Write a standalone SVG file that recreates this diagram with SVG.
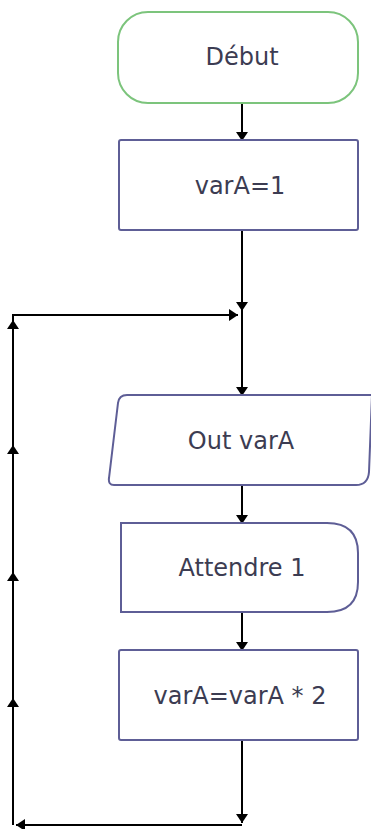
<svg xmlns="http://www.w3.org/2000/svg" width="371" height="829" viewBox="0 0 371 829">
<style>
  .lbl { font-family: "DejaVu Sans", Verdana, sans-serif; font-size: 24px; text-anchor: middle; fill: #3c3c52; }
  .box { fill: #ffffff; stroke: #5e5e96; stroke-width: 2; }
  .term { fill: #ffffff; stroke: #7cc47c; stroke-width: 2; }
  .conn line { stroke: #000000; stroke-width: 2; fill: none; }
</style>
<defs>
  <marker id="arr" viewBox="0 0 9 12" refX="9" refY="6" markerWidth="9" markerHeight="12" orient="auto" markerUnits="userSpaceOnUse">
    <path d="M0,0 L9,6 L0,12 Z" fill="#000000"/>
  </marker>
</defs>
<rect width="371" height="829" fill="#ffffff"/>

<g class="conn" id="connectors">
  <line x1="242" y1="103" x2="242" y2="141" marker-end="url(#arr)"/>
  <line x1="242" y1="230" x2="242" y2="311" marker-end="url(#arr)"/>
  <line x1="242" y1="308" x2="242" y2="396" marker-end="url(#arr)"/>
  <line x1="13" y1="315" x2="238" y2="315" marker-end="url(#arr)"/>
  <line x1="242" y1="485" x2="242" y2="524" marker-end="url(#arr)"/>
  <line x1="242" y1="612" x2="242" y2="651" marker-end="url(#arr)"/>
  <line x1="242" y1="740" x2="242" y2="823" marker-end="url(#arr)"/>
  <line x1="242" y1="825" x2="16" y2="825" marker-end="url(#arr)"/>
  <line x1="13" y1="825" x2="13" y2="698" marker-end="url(#arr)"/>
  <line x1="13" y1="700" x2="13" y2="572" marker-end="url(#arr)"/>
  <line x1="13" y1="574" x2="13" y2="445" marker-end="url(#arr)"/>
  <line x1="13" y1="447" x2="13" y2="320" marker-end="url(#arr)"/>
  <line x1="13" y1="322" x2="13" y2="314"/>
</g>

<g id="debut">
  <rect class="term" x="118" y="12" width="240" height="91" rx="30" ry="30"/>
  <text class="lbl" x="242" y="65">Début</text>
</g>

<g id="init">
  <rect class="box" x="119" y="140" width="239" height="90" rx="2"/>
  <text class="lbl" x="240" y="194">varA=1</text>
</g>

<g id="out">
  <path class="box" d="M127,395 L372,395 L369,472 Q368,485 356,485 L114,485 Q108,485 109,478 L118,403 Q119,395 127,395 Z"/>
  <text class="lbl" x="241" y="449">Out varA</text>
</g>

<g id="wait">
  <path class="box" d="M121,523 L327,523 Q358,523 358,553 L358,582 Q358,612 327,612 L121,612 Z"/>
  <text class="lbl" x="242" y="576">Attendre 1</text>
</g>

<g id="double">
  <rect class="box" x="119" y="650" width="239" height="90" rx="2"/>
  <text class="lbl" x="240" y="704">varA=varA * 2</text>
</g>
</svg>
